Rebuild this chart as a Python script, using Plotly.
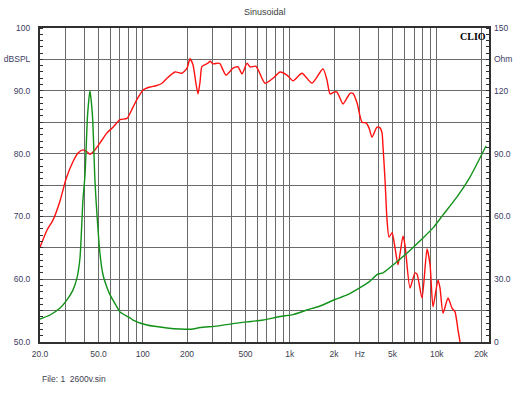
import plotly.graph_objects as go

# ---- SPL curve (red, left axis, dBSPL) ----
spl_freq = [20.0, 22.3, 24.5, 27.4, 30.1, 33.5, 36.3, 39.2, 41.8, 43.7, 46.6, 51.2, 57.1, 62.8,
            70.0, 78.1, 85.8, 92.8, 100.3, 112, 123, 135.2, 146.2, 165.8, 185, 200, 209.6,
            219.8, 230.3, 237.6, 245.3, 253, 278, 287, 300.6, 325, 335.4, 368.5, 411, 444.6,
            473.4, 512, 536.5, 589.6, 678.8, 769.3, 859, 957.8, 1052, 1211, 1417, 1683, 1792,
            1879, 2000, 2096, 2303, 2570, 2693, 2867, 3100, 3302, 3460, 3627, 3922, 4111, 4242,
            4309, 4447, 4589, 4735, 4963, 5200, 5450, 5894, 6082, 6577, 7112, 7340, 7937, 8585,
            9000, 9431, 10195, 10520, 11031, 11930, 12700, 13310, 13950, 14400]
spl_db = [65.1, 67.8, 69.4, 72.5, 76.0, 78.7, 80.1, 80.6, 80.3, 79.9, 80.4, 81.7, 83.3, 84.2,
          85.4, 85.6, 87.4, 88.9, 90.1, 90.6, 90.8, 91.2, 92.0, 93.0, 92.8, 93.6, 95.1,
          94.1, 91.1, 89.5, 91.4, 93.9, 94.4, 94.7, 94.3, 94.4, 94.3, 92.5, 93.6, 93.8,
          92.7, 94.4, 93.8, 93.9, 91.2, 92.0, 93.0, 92.5, 91.6, 92.8, 91.2, 93.5, 91.7,
          89.5, 89.8, 89.8, 87.9, 89.6, 89.6, 88.1, 85.0, 84.9, 84.1, 82.6, 84.2, 84.1, 83.3,
          81.1, 75.8, 69.4, 66.7, 67.4, 65.0, 62.3, 66.9, 65.4, 58.6, 61.0, 60.8, 57.0, 64.8,
          62.3, 55.6, 59.9, 58.6, 54.6, 57.0, 55.4, 54.8, 51.9, 50.0]

# ---- Impedance curve (green, right axis, Ohm) ----
imp_freq = [20.0, 23.4, 27.4, 30.5, 33.5, 35.7, 37.4, 39.2, 40.5, 42.1, 43.7, 45.5, 47.3, 48.8,
            51.2, 53.7, 57.1, 59.9, 66.8, 70.0, 81.9, 85.8, 106.9, 146.2, 179.3, 219.8, 245.3,
            320, 411, 512, 658, 859, 1052, 1310, 1607, 2032, 2453, 3005, 3515, 3985, 4309,
            5039, 6277, 8059, 9431, 11031, 13733, 16838, 21624]
imp_ohm = [11.0, 12.9, 16.2, 20.1, 24.8, 30.6, 40.0, 68.0, 80.0, 108.0, 120.0, 108.0, 77.0, 61.0,
           42.0, 32.0, 26.0, 22.5, 16.7, 14.3, 11.5, 10.5, 8.1, 6.7, 6.2, 6.2, 6.9,
           7.6, 8.8, 9.6, 10.5, 12.2, 13.1, 15.3, 17.2, 20.3, 22.5, 26.0, 29.1, 32.5, 33.0,
           36.8, 42.5, 49.7, 54.5, 60.7, 69.3, 78.8, 93.6]

# ---- axis ticks ----
x_tickvals = [20, 50, 100, 200, 500, 1000, 2000, 3000, 5000, 10000, 20000]
x_ticktext = ["20.0", "50.0", "100", "200", "500", "1k", "2k", "Hz", "5k", "10k", "20k"]
x_gridvals = [20, 30, 40, 50, 60, 70, 80, 90, 100, 200, 300, 400, 500, 600, 700, 800, 900,
              1000, 2000, 3000, 4000, 5000, 6000, 7000, 8000, 9000, 10000, 20000]
y1_tickvals = [50, 55, 60, 65, 70, 75, 80, 85, 90, 95, 100]
y1_ticktext = ["50.0", "", "60.0", "", "70.0", "", "80.0", "", "90.0", "dBSPL", "100"]
y2_tickvals = [0, 15, 30, 45, 60, 75, 90, 105, 120, 135, 150]
y2_ticktext = ["0", "", "30.0", "", "60.0", "", "90.0", "", "120", "Ohm", "150"]

GRID = "#6a6a6a"
LBL = "#3c3c64"
FONT = "Liberation Sans, Arial, sans-serif"

fig = go.Figure()
fig.add_trace(go.Scatter(x=spl_freq, y=spl_db, mode="lines", yaxis="y",
                         line=dict(color="#ff1010", width=1.4, shape="spline", smoothing=0.6),
                         hoverinfo="skip", showlegend=False))
fig.add_trace(go.Scatter(x=imp_freq, y=imp_ohm, mode="lines", yaxis="y2",
                         line=dict(color="#13921a", width=1.4, shape="spline", smoothing=0.6),
                         hoverinfo="skip", showlegend=False))

fig.update_layout(
    width=530, height=398,
    margin=dict(l=40, r=41, t=28, b=56, autoexpand=False),
    paper_bgcolor="white", plot_bgcolor="white",
    font=dict(family=FONT, size=8, color=LBL),
    xaxis=dict(type="log", range=[1.30103, 4.3553], automargin=False,
               tickvals=x_tickvals, ticktext=x_ticktext,
               showgrid=True, gridcolor=GRID, gridwidth=1,
               minor=dict(tickvals=x_gridvals, showgrid=True, gridcolor=GRID, gridwidth=1,
                          ticks=""),
               showline=True, linecolor="#303030", linewidth=2, mirror=True,
               ticks="", ticklabelstandoff=3, zeroline=False,
               tickfont=dict(color="#404050", size=8.5)),
    yaxis=dict(range=[50, 100], tickvals=y1_tickvals, ticktext=y1_ticktext, automargin=False,
               showgrid=True, gridcolor=GRID, gridwidth=1,
               showline=True, linecolor="#303030", linewidth=2, mirror=True,
               ticks="", ticklabelstandoff=6, zeroline=False,
               minor=dict(dtick=1, ticks="inside", ticklen=3, tickcolor="#303030",
                          showgrid=False),
               tickfont=dict(color=LBL, size=8.5)),
    yaxis2=dict(range=[0, 150], overlaying="y", side="right", automargin=False,
                tickvals=y2_tickvals, ticktext=y2_ticktext,
                showgrid=False, showline=False, zeroline=False,
                ticks="", ticklabelstandoff=4,
                minor=dict(dtick=3, ticks="inside", ticklen=3, tickcolor="#303030",
                           showgrid=False),
                tickfont=dict(color=LBL, size=8.5)),
    annotations=[
        dict(text="Sinusoidal", x=0.5, y=1, xref="paper", yref="paper", showarrow=False,
             yanchor="bottom", yshift=9,
             font=dict(size=9, color="#404040", family=FONT)),
        dict(text="<b>CLIO</b>", x=1.0, y=1.0, xref="paper", yref="paper", showarrow=False,
             xanchor="right", yanchor="top", xshift=-1, yshift=-1,
             font=dict(size=10, color="#000000", family="Liberation Serif, serif")),
        dict(text="File: 1  2600v.sin", x=0, y=0, xref="paper", yref="paper", showarrow=False,
             xanchor="left", yanchor="middle", yshift=-37,
             font=dict(size=8.5, color="#404050", family=FONT)),
    ],
)

fig.write_html("out.html", config={"displayModeBar": False},
               post_script="document.body.style.margin='0';")
